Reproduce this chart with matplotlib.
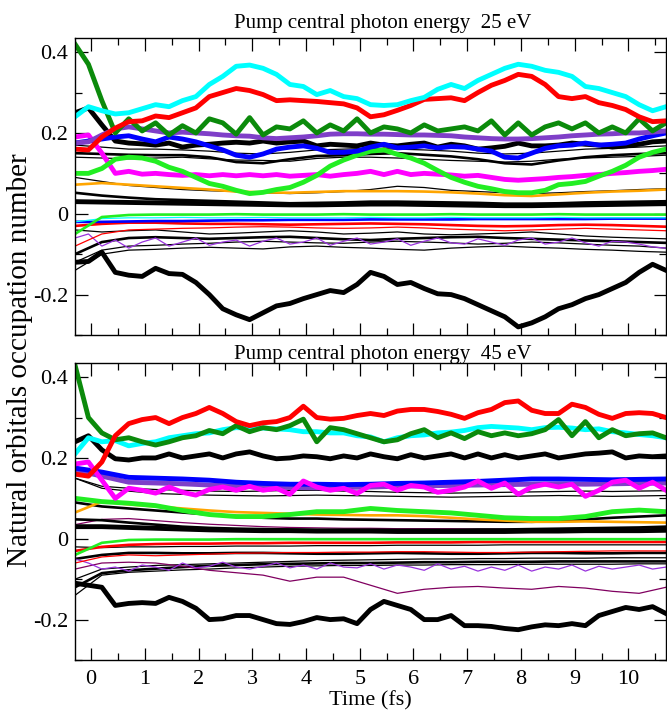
import matplotlib
matplotlib.use("Agg")
import matplotlib.pyplot as plt
from matplotlib.ticker import MultipleLocator, FixedLocator, FixedFormatter
import numpy as np

plt.rcParams['font.family'] = ['Liberation Serif', 'DejaVu Serif']

# time span of every curve (fs); each series is spread evenly over it
T_START, T_END = -0.3, 10.7

# ---------------- 25 eV panel ----------------
top_cyan = [0.24, 0.265, 0.255, 0.247, 0.25, 0.26, 0.27, 0.265, 0.28, 0.29,
            0.32, 0.34, 0.365, 0.368, 0.36, 0.345, 0.32, 0.315, 0.295, 0.305,
            0.29, 0.285, 0.27, 0.268, 0.27, 0.28, 0.288, 0.308, 0.32, 0.31,
            0.33, 0.345, 0.36, 0.37, 0.365, 0.355, 0.35, 0.34, 0.315, 0.31,
            0.30, 0.29, 0.27, 0.255, 0.265]
top_red = [0.16, 0.158, 0.19, 0.212, 0.228, 0.23, 0.242, 0.238, 0.25, 0.262,
           0.29, 0.30, 0.31, 0.305, 0.295, 0.28, 0.282, 0.28, 0.278, 0.275,
           0.272, 0.262, 0.24, 0.245, 0.256, 0.268, 0.283, 0.285, 0.287, 0.28,
           0.30, 0.318, 0.33, 0.345, 0.34, 0.32, 0.29, 0.285, 0.29, 0.275,
           0.268, 0.258, 0.24, 0.228, 0.23]
top_dgreen = [0.42, 0.37, 0.28, 0.20, 0.235, 0.205, 0.225, 0.195, 0.218, 0.20,
              0.235, 0.225, 0.197, 0.238, 0.195, 0.215, 0.21, 0.23, 0.20, 0.22,
              0.205, 0.235, 0.20, 0.215, 0.21, 0.20, 0.22, 0.205, 0.21, 0.215,
              0.205, 0.23, 0.195, 0.225, 0.195, 0.215, 0.225, 0.21, 0.225, 0.20,
              0.215, 0.20, 0.235, 0.205, 0.225]
top_purple = [0.175, 0.178, 0.195, 0.21, 0.215, 0.21, 0.205, 0.20, 0.202, 0.20,
              0.198, 0.195, 0.193, 0.192, 0.188, 0.186, 0.188, 0.19, 0.193, 0.197,
              0.198, 0.198, 0.197, 0.197, 0.196, 0.195, 0.195, 0.194, 0.193, 0.19,
              0.188, 0.186, 0.185, 0.185, 0.186, 0.188, 0.19, 0.193, 0.195, 0.197,
              0.198, 0.20, 0.20, 0.202, 0.205]
top_blue = [0.175, 0.18, 0.185, 0.19, 0.193, 0.185, 0.178, 0.19, 0.185, 0.178,
            0.168, 0.158, 0.145, 0.14, 0.148, 0.16, 0.165, 0.168, 0.162, 0.152,
            0.152, 0.155, 0.165, 0.172, 0.163, 0.165, 0.168, 0.163, 0.166, 0.165,
            0.16, 0.155, 0.14, 0.138, 0.15, 0.162, 0.168, 0.17, 0.175, 0.17,
            0.172, 0.175, 0.185, 0.193, 0.20]
top_black = [0.25, 0.262, 0.22, 0.18, 0.175, 0.173, 0.17, 0.175, 0.165, 0.17,
             0.172, 0.175, 0.177, 0.175, 0.18, 0.175, 0.178, 0.18, 0.168, 0.172,
             0.17, 0.168, 0.175, 0.17, 0.168, 0.172, 0.175, 0.165, 0.172, 0.168,
             0.16, 0.163, 0.167, 0.175, 0.168, 0.168, 0.17, 0.175, 0.172, 0.17,
             0.165, 0.168, 0.172, 0.178, 0.18]
top_lime = [0.10, 0.10, 0.112, 0.135, 0.14, 0.138, 0.13, 0.115, 0.105, 0.09,
            0.075, 0.068, 0.058, 0.05, 0.053, 0.06, 0.065, 0.078, 0.095, 0.118,
            0.133, 0.145, 0.155, 0.158, 0.147, 0.138, 0.125, 0.107, 0.09, 0.078,
            0.068, 0.062, 0.055, 0.052, 0.052, 0.058, 0.072, 0.075, 0.08, 0.093,
            0.105, 0.12, 0.14, 0.152, 0.16]
top_magenta = [0.19, 0.195, 0.15, 0.10, 0.105, 0.098, 0.10, 0.097, 0.095, 0.097,
               0.094, 0.097, 0.094, 0.097, 0.094, 0.097, 0.093, 0.095, 0.097, 0.093,
               0.097, 0.10, 0.105, 0.097, 0.105, 0.097, 0.10, 0.098, 0.096, 0.093,
               0.095, 0.09, 0.085, 0.083, 0.085, 0.087, 0.09, 0.092, 0.095, 0.097,
               0.10, 0.102, 0.105, 0.107, 0.11]
top_black_low = [-0.12, -0.118, -0.095, -0.145, -0.152, -0.155, -0.135, -0.148, -0.15, -0.17,
                 -0.20, -0.235, -0.25, -0.262, -0.245, -0.228, -0.222, -0.21, -0.20, -0.19,
                 -0.195, -0.175, -0.145, -0.155, -0.175, -0.17, -0.185, -0.198, -0.20, -0.21,
                 -0.225, -0.24, -0.255, -0.28, -0.27, -0.255, -0.235, -0.225, -0.21, -0.20,
                 -0.185, -0.17, -0.145, -0.125, -0.14]
top_violet_thin = [-0.06, -0.05, -0.08, -0.065, -0.085, -0.07, -0.06, -0.08, -0.07, -0.06,
                   -0.078, -0.07, -0.065, -0.08, -0.068, -0.06, -0.075, -0.07, -0.06, -0.078,
                   -0.068, -0.06, -0.075, -0.07, -0.062, -0.078, -0.068, -0.06, -0.072, -0.075,
                   -0.062, -0.07, -0.078, -0.065, -0.06, -0.075, -0.07, -0.06, -0.072, -0.08,
                   -0.068, -0.07, -0.075, -0.082, -0.085]
top_black2 = [0.15, 0.148, 0.146, 0.145, 0.145, 0.14, 0.128, 0.125, 0.135, 0.143, 0.145, 0.148,
              0.15, 0.146, 0.142, 0.135, 0.125, 0.122, 0.132, 0.14, 0.145, 0.148, 0.15]
top_black3 = [0.14, 0.138, 0.136, 0.138, 0.14, 0.136, 0.133, 0.132, 0.13, 0.137, 0.14, 0.14,
              0.138, 0.135, 0.132, 0.13, 0.128, 0.13, 0.135, 0.138, 0.14, 0.142, 0.145]
top_black4 = [0.17, 0.165, 0.16, 0.16, 0.158, 0.155, 0.15, 0.148, 0.152, 0.158, 0.16, 0.162,
              0.16, 0.158, 0.155, 0.15, 0.148, 0.15, 0.155, 0.16, 0.162, 0.165, 0.168]
top_orange = [0.072, 0.076, 0.072, 0.068, 0.064, 0.06, 0.055, 0.053, 0.052, 0.054, 0.056, 0.056,
              0.056, 0.055, 0.053, 0.05, 0.046, 0.044, 0.048, 0.052, 0.055, 0.057, 0.06]
top_black5 = [0.09, 0.08, 0.07, 0.065, 0.06, 0.057, 0.055, 0.052, 0.05, 0.052, 0.055, 0.06,
              0.068, 0.065, 0.058, 0.055, 0.052, 0.05, 0.052, 0.055, 0.057, 0.06, 0.062]
top_black6 = [0.052, 0.045, 0.04, 0.036, 0.034, 0.032, 0.03, 0.028, 0.026, 0.027, 0.028, 0.03,
              0.03, 0.029, 0.028, 0.027, 0.025, 0.025, 0.026, 0.028, 0.029, 0.03, 0.031]
top_black7 = [0.03, 0.029, 0.028, 0.027, 0.026, 0.025, 0.024, 0.023, 0.022, 0.022, 0.023, 0.024,
              0.024, 0.023, 0.022, 0.021, 0.02, 0.02, 0.021, 0.022, 0.023, 0.024, 0.025]
top_maroon = [0.026, 0.027, 0.026, 0.026, 0.025, 0.025, 0.024, 0.024, 0.023, 0.023, 0.024, 0.025,
              0.025, 0.024, 0.023, 0.022, 0.022, 0.022, 0.023, 0.024, 0.025, 0.026, 0.027]
top_green_thin = [-0.05, -0.008, -0.003, -0.002, -0.002, -0.002, -0.001, -0.002, -0.002, -0.002,
                  -0.001, -0.002, -0.002, -0.002, -0.001, -0.002, -0.002, -0.002, -0.001, -0.002,
                  -0.002, -0.002, -0.002]
top_cyan_thin = [-0.02, -0.012, -0.01, -0.01, -0.009, -0.01, -0.01, -0.009, -0.01, -0.01, -0.01,
                 -0.009, -0.01, -0.01, -0.009, -0.01, -0.01, -0.01, -0.009, -0.01, -0.01, -0.01, -0.01]
top_blue_neg = [-0.02, -0.02, -0.019, -0.018, -0.018, -0.017, -0.016, -0.016, -0.015, -0.015,
                -0.015, -0.014, -0.014, -0.014, -0.014, -0.013, -0.013, -0.013, -0.013, -0.013,
                -0.012, -0.012, -0.012]
top_red_neg = [-0.03, -0.025, -0.022, -0.022, -0.024, -0.025, -0.025, -0.026, -0.027, -0.026,
               -0.025, -0.024, -0.025, -0.026, -0.028, -0.03, -0.031, -0.03, -0.028, -0.027,
               -0.028, -0.03, -0.032]
top_red_thin = [-0.08, -0.05, -0.04, -0.038, -0.036, -0.035, -0.033, -0.032, -0.033, -0.035,
                -0.036, -0.035, -0.033, -0.035, -0.038, -0.04, -0.042, -0.04, -0.038, -0.036,
                -0.038, -0.04, -0.042]
top_neg1 = [-0.04, -0.045, -0.042, -0.04, -0.045, -0.05, -0.048, -0.045, -0.042, -0.045, -0.05,
            -0.048, -0.045, -0.05, -0.052, -0.05, -0.048, -0.045, -0.05, -0.055, -0.058, -0.06, -0.062]
top_neg2 = [-0.10, -0.07, -0.06, -0.058, -0.06, -0.062, -0.06, -0.058, -0.057, -0.06, -0.063,
            -0.065, -0.062, -0.06, -0.058, -0.057, -0.06, -0.062, -0.064, -0.066, -0.068, -0.07, -0.072]
top_neg3 = [-0.12, -0.09, -0.08, -0.078, -0.075, -0.073, -0.07, -0.068, -0.07, -0.072, -0.073,
            -0.07, -0.068, -0.07, -0.072, -0.075, -0.073, -0.07, -0.072, -0.075, -0.078, -0.08, -0.085]
top_neg4 = [-0.14, -0.10, -0.09, -0.088, -0.085, -0.083, -0.085, -0.087, -0.082, -0.08, -0.083,
            -0.085, -0.088, -0.09, -0.085, -0.082, -0.08, -0.083, -0.085, -0.088, -0.09, -0.093, -0.095]

# ---------------- 45 eV panel ----------------
bot_red = [0.16, 0.155, 0.19, 0.255, 0.285, 0.295, 0.30, 0.285, 0.30, 0.31,
           0.325, 0.31, 0.29, 0.28, 0.287, 0.29, 0.30, 0.328, 0.30, 0.296,
           0.298, 0.305, 0.31, 0.305, 0.316, 0.32, 0.32, 0.315, 0.308, 0.298,
           0.312, 0.32, 0.337, 0.341, 0.318, 0.31, 0.31, 0.333, 0.325, 0.308,
           0.298, 0.31, 0.312, 0.31, 0.30]
bot_dgreen = [0.43, 0.30, 0.262, 0.245, 0.25, 0.24, 0.232, 0.24, 0.25, 0.255,
              0.268, 0.26, 0.28, 0.265, 0.275, 0.27, 0.28, 0.296, 0.24, 0.275,
              0.27, 0.26, 0.25, 0.24, 0.245, 0.26, 0.27, 0.25, 0.262, 0.248,
              0.265, 0.255, 0.262, 0.255, 0.26, 0.27, 0.295, 0.255, 0.29, 0.25,
              0.27, 0.255, 0.26, 0.262, 0.25]
bot_cyan = [0.21, 0.25, 0.24, 0.243, 0.23, 0.236, 0.24, 0.25, 0.255, 0.26,
            0.262, 0.27, 0.275, 0.274, 0.274, 0.272, 0.27, 0.265, 0.265, 0.262,
            0.262, 0.255, 0.252, 0.24, 0.25, 0.255, 0.257, 0.262, 0.264, 0.268,
            0.275, 0.278, 0.276, 0.274, 0.27, 0.275, 0.276, 0.274, 0.27, 0.272,
            0.265, 0.262, 0.258, 0.255, 0.25]
bot_black = [0.24, 0.255, 0.22, 0.198, 0.195, 0.20, 0.20, 0.21, 0.20, 0.205,
             0.21, 0.20, 0.21, 0.215, 0.205, 0.198, 0.20, 0.205, 0.203, 0.198,
             0.205, 0.20, 0.21, 0.203, 0.198, 0.208, 0.20, 0.205, 0.21, 0.20,
             0.21, 0.20, 0.208, 0.20, 0.205, 0.21, 0.20, 0.205, 0.21, 0.212,
             0.215, 0.20, 0.205, 0.203, 0.205]
bot_magenta = [0.185, 0.19, 0.145, 0.10, 0.125, 0.12, 0.113, 0.128, 0.115, 0.108,
               0.122, 0.128, 0.12, 0.13, 0.12, 0.125, 0.11, 0.143, 0.128, 0.12,
               0.125, 0.112, 0.132, 0.135, 0.12, 0.132, 0.128, 0.115, 0.12, 0.128,
               0.143, 0.125, 0.138, 0.11, 0.128, 0.135, 0.128, 0.135, 0.105, 0.12,
               0.14, 0.145, 0.125, 0.14, 0.12]
bot_black_low = [-0.11, -0.115, -0.12, -0.165, -0.16, -0.158, -0.16, -0.145, -0.155, -0.172,
                 -0.20, -0.198, -0.19, -0.19, -0.20, -0.21, -0.212, -0.205, -0.195, -0.20,
                 -0.198, -0.21, -0.175, -0.155, -0.165, -0.175, -0.20, -0.20, -0.19, -0.215,
                 -0.215, -0.217, -0.222, -0.225, -0.218, -0.213, -0.215, -0.21, -0.215, -0.19,
                 -0.18, -0.17, -0.175, -0.168, -0.185]
bot_violet_thin = [-0.05, -0.06, -0.075, -0.07, -0.08, -0.065, -0.07, -0.078, -0.06, -0.072,
                   -0.068, -0.058, -0.07, -0.075, -0.068, -0.06, -0.072, -0.065, -0.075, -0.06,
                   -0.07, -0.072, -0.062, -0.075, -0.065, -0.07, -0.078, -0.062, -0.075, -0.068,
                   -0.08, -0.07, -0.078, -0.065, -0.08, -0.07, -0.075, -0.065, -0.08, -0.068,
                   -0.075, -0.07, -0.065, -0.075, -0.07]
bot_blue = [0.175, 0.165, 0.152, 0.15, 0.148, 0.145, 0.14, 0.137, 0.135, 0.135, 0.134, 0.135,
            0.137, 0.138, 0.14, 0.142, 0.145, 0.148, 0.148, 0.147, 0.146, 0.147, 0.148]
bot_purple = [0.17, 0.155, 0.14, 0.138, 0.136, 0.133, 0.13, 0.128, 0.127, 0.126, 0.127, 0.128,
              0.13, 0.131, 0.132, 0.133, 0.134, 0.135, 0.136, 0.135, 0.136, 0.137, 0.138]
bot_black2 = [0.15, 0.13, 0.125, 0.122, 0.12, 0.118, 0.117, 0.118, 0.12, 0.12, 0.118, 0.117,
              0.115, 0.114, 0.113, 0.114, 0.115, 0.116, 0.117, 0.118, 0.117, 0.118, 0.119]
bot_black3 = [0.15, 0.125, 0.118, 0.112, 0.11, 0.108, 0.107, 0.106, 0.107, 0.108, 0.107, 0.106,
              0.105, 0.104, 0.103, 0.104, 0.105, 0.106, 0.107, 0.106, 0.105, 0.106, 0.107]
bot_lime = [0.10, 0.092, 0.088, 0.082, 0.07, 0.06, 0.055, 0.055, 0.06, 0.067, 0.067, 0.075,
            0.07, 0.067, 0.064, 0.058, 0.052, 0.05, 0.05, 0.055, 0.067, 0.071, 0.067]
bot_orange = [0.065, 0.092, 0.085, 0.08, 0.075, 0.07, 0.066, 0.064, 0.062, 0.06, 0.059, 0.058,
              0.058, 0.056, 0.052, 0.048, 0.045, 0.042, 0.042, 0.043, 0.042, 0.041, 0.04]
bot_black4 = [0.048, 0.046, 0.04, 0.035, 0.03, 0.027, 0.025, 0.024, 0.023, 0.022, 0.022, 0.022,
              0.022, 0.022, 0.022, 0.023, 0.023, 0.024, 0.025, 0.026, 0.027, 0.028, 0.03]
bot_black5 = [0.03, 0.03, 0.028, 0.026, 0.024, 0.022, 0.021, 0.02, 0.02, 0.019, 0.019, 0.019,
              0.018, 0.018, 0.018, 0.018, 0.018, 0.019, 0.019, 0.02, 0.02, 0.02, 0.021]
bot_black6 = [0.09, 0.08, 0.075, 0.07, 0.065, 0.06, 0.056, 0.052, 0.05, 0.05, 0.048, 0.047,
              0.046, 0.045, 0.044, 0.043, 0.042, 0.042, 0.044, 0.048, 0.052, 0.055, 0.058]
bot_maroon_pos = [0.035, 0.048, 0.05, 0.045, 0.04, 0.036, 0.033, 0.03, 0.028, 0.027, 0.026, 0.026,
                  0.025, 0.025, 0.025, 0.024, 0.024, 0.024, 0.025, 0.025, 0.025, 0.026, 0.026]
bot_green_thin = [-0.04, -0.01, -0.003, -0.002, -0.002, -0.002, -0.001, -0.001, -0.001, -0.001,
                  -0.001, -0.001, -0.001, -0.001, -0.001, -0.001, -0.001, -0.001, -0.001, -0.001,
                  -0.001, -0.001, -0.001]
bot_red_neg = [-0.03, -0.02, -0.015, -0.013, -0.012, -0.012, -0.011, -0.011, -0.01, -0.01, -0.01,
               -0.01, -0.009, -0.009, -0.009, -0.008, -0.008, -0.008, -0.008, -0.008, -0.008,
               -0.008, -0.008]
bot_neg1 = [-0.02, -0.022, -0.02, -0.02, -0.019, -0.019, -0.018, -0.018, -0.018, -0.017, -0.017,
            -0.017, -0.016, -0.016, -0.016, -0.016, -0.015, -0.015, -0.015, -0.015, -0.015, -0.015, -0.015]
bot_red_thin = [-0.06, -0.045, -0.04, -0.042, -0.04, -0.038, -0.036, -0.035, -0.034, -0.034,
                -0.033, -0.033, -0.032, -0.032, -0.033, -0.034, -0.034, -0.033, -0.032, -0.031,
                -0.03, -0.03, -0.03]
bot_neg2 = [-0.05, -0.04, -0.035, -0.035, -0.036, -0.036, -0.035, -0.035, -0.036, -0.037, -0.037,
            -0.036, -0.035, -0.036, -0.037, -0.037, -0.036, -0.035, -0.035, -0.036, -0.036, -0.035, -0.035]
bot_neg3 = [-0.10, -0.075, -0.07, -0.066, -0.064, -0.062, -0.06, -0.058, -0.056, -0.054, -0.053,
            -0.052, -0.051, -0.05, -0.05, -0.049, -0.049, -0.048, -0.048, -0.048, -0.047, -0.047, -0.047]
bot_neg4 = [-0.12, -0.085, -0.078, -0.074, -0.07, -0.067, -0.065, -0.063, -0.062, -0.061, -0.06,
            -0.06, -0.059, -0.058, -0.058, -0.057, -0.057, -0.057, -0.056, -0.056, -0.056, -0.056, -0.056]
bot_neg5 = [-0.14, -0.09, -0.083, -0.08, -0.077, -0.075, -0.072, -0.07, -0.068, -0.067, -0.066,
            -0.066, -0.065, -0.065, -0.064, -0.064, -0.064, -0.063, -0.063, -0.063, -0.063, -0.062, -0.062]
bot_maroon = [-0.075, -0.06, -0.058, -0.06, -0.068, -0.078, -0.084, -0.09, -0.105, -0.095, -0.095,
              -0.115, -0.135, -0.125, -0.12, -0.118, -0.122, -0.125, -0.118, -0.122, -0.13, -0.135, -0.12]

titles = ["Pump central photon energy  25 eV", "Pump central photon energy  45 eV"]
ytick_vals = [-0.2, 0, 0.2, 0.4]
ytick_labels = ["-0.2", "0", "0.2", "0.4"]
xtick_vals = list(range(0, 11))

# colours
CYAN, RED, DGREEN, PURPLE = '#00ffff', '#ff0000', '#0b8a0b', '#7f3fc8'
BLUE, LIME, MAGENTA, ORANGE = '#0000ff', '#22ee22', '#ff00ff', '#ffa500'
VIOLET, MAROON, K = '#9933dd', '#800060', 'black'
THICK, MED, THIN = 3.5, 1.9, 0.9

top_lines = [
    (top_neg4, K, THIN), (top_neg3, K, THIN), (top_neg2, K, MED), (top_neg1, K, THIN),
    (top_violet_thin, VIOLET, THIN), (top_red_thin, RED, THIN), (top_red_neg, RED, MED),
    (top_blue_neg, BLUE, MED), (top_cyan_thin, CYAN, THIN), (top_green_thin, LIME, MED),
    (top_maroon, MAROON, THIN), (top_black7, K, THICK), (top_black6, K, MED),
    (top_black5, K, THIN), (top_orange, ORANGE, MED),
    (top_black3, K, THIN), (top_black2, K, MED), (top_black4, K, THIN),
    (top_magenta, MAGENTA, THICK), (top_lime, LIME, THICK), (top_black, K, THICK),
    (top_blue, BLUE, THICK), (top_purple, PURPLE, THICK), (top_dgreen, DGREEN, THICK),
    (top_red, RED, THICK), (top_cyan, CYAN, THICK), (top_black_low, K, THICK),
]
bot_lines = [
    (bot_neg5, K, THIN), (bot_neg4, K, MED), (bot_neg3, K, THIN), (bot_neg2, K, MED),
    (bot_maroon, MAROON, THIN), (bot_violet_thin, VIOLET, THIN), (bot_red_thin, RED, THIN),
    (bot_neg1, K, THIN), (bot_red_neg, RED, MED), (bot_green_thin, LIME, MED),
    (bot_maroon_pos, MAROON, THIN), (bot_black5, K, THICK), (bot_black4, K, MED),
    (bot_black6, K, MED), (bot_orange, ORANGE, MED), (bot_lime, LIME, THICK),
    (bot_black3, K, THIN), (bot_black2, K, THIN), (bot_purple, PURPLE, THICK),
    (bot_blue, BLUE, THICK), (bot_magenta, MAGENTA, THICK), (bot_black, K, THICK),
    (bot_cyan, CYAN, THICK), (bot_dgreen, DGREEN, THICK), (bot_red, RED, THICK),
    (bot_black_low, K, THICK),
]

fig = plt.figure(figsize=(6.67, 7.2), dpi=100)
W, H = 667.0, 720.0
ax_top = fig.add_axes([75 / W, 1 - 335 / H, 591 / W, 297 / H])
ax_bot = fig.add_axes([75 / W, 1 - 660 / H, 591 / W, 297 / H])

for ax, lines in ((ax_top, top_lines), (ax_bot, bot_lines)):
    for vals, col, lw in lines:
        t = np.linspace(T_START, T_END, len(vals))
        ax.plot(t, vals, color=col, lw=lw)
    ax.set_xlim(-0.3, 10.7)
    ax.set_ylim(-0.30, 0.435)
    ax.yaxis.set_major_locator(FixedLocator(ytick_vals))
    ax.yaxis.set_major_formatter(FixedFormatter(ytick_labels))
    ax.yaxis.set_minor_locator(MultipleLocator(0.1))
    ax.xaxis.set_major_locator(FixedLocator(xtick_vals))
    ax.xaxis.set_minor_locator(MultipleLocator(0.5))
    ax.tick_params(which='both', direction='in', top=True, right=True, width=0.9,
                   labelsize=16)
    ax.tick_params(which='major', length=9)
    ax.tick_params(which='minor', length=5)
    ax.tick_params(axis='y', pad=5)
    ax.tick_params(axis='x', pad=7)
    for sp in ax.spines.values():
        sp.set_linewidth(1.0)

ax_top.tick_params(labelbottom=False)

fig.text(383 / W, 1 - 28 / H, titles[0], ha='center', va='baseline', fontsize=15)
fig.text(383 / W, 1 - 359 / H, titles[1], ha='center', va='baseline', fontsize=15)
fig.text(20 / W, 0.5, "Natural orbitals occupation number", rotation=90,
         ha='center', va='center', fontsize=21)
ax_bot.set_xlabel("Time (fs)", fontsize=16, labelpad=2)

fig.savefig("out.png", dpi=100)
